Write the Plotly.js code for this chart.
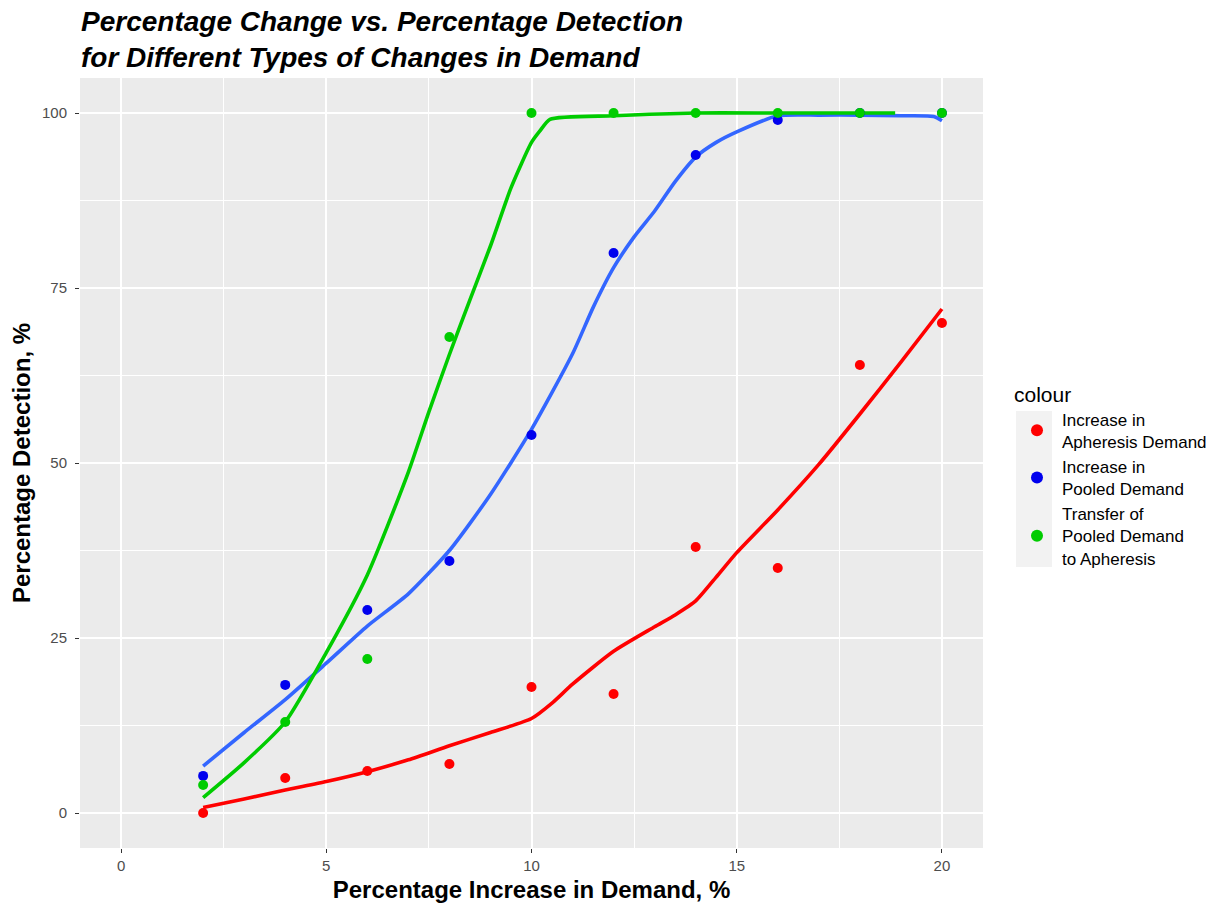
<!DOCTYPE html>
<html>
<head>
<meta charset="utf-8">
<script src="https://cdn.plot.ly/plotly-3.0.1.min.js"></script>
<style>html,body{margin:0;padding:0;background:#fff;}#chart{width:1224px;height:905px;}</style>
</head>
<body>
<div id="chart"></div>
<script>
// Observed points
const demandPct = [2, 4, 6, 8, 10, 12, 14, 16, 18, 20];
const apheresisDetect = [0, 5, 6, 7, 18, 17, 38, 35, 64, 70];
const pooledDetect = [5.3, 18.3, 29, 36, 54, 80, 94, 99, 100, 100];
const transferDetect = [4, 13, 22, 68, 100, 100, 100, 100, 100, 100];

// Smoothed curves
const apheresisSmoothX = [2, 3, 4, 5, 6, 7, 8, 9, 10, 10.5, 11, 12, 13, 13.5, 14, 14.5, 15, 16, 17, 18, 19, 20];
const apheresisSmoothY = [0.8, 2.0, 3.3, 4.5, 5.9, 7.6, 9.6, 11.5, 13.5, 15.7, 18.4, 23.1, 26.6, 28.3, 30.3, 33.7, 37.2, 43.3, 49.8, 57, 64.4, 72];
const pooledSmoothX = [2, 3, 4, 5, 6, 7, 8, 9, 10, 11, 11.5, 12, 12.5, 13, 13.5, 14, 14.5, 15, 16, 17, 18, 19, 19.8, 20];
const pooledSmoothY = [6.7, 11.5, 16.2, 21.4, 26.7, 31.3, 37.5, 45.5, 54.8, 65.6, 72.2, 77.9, 82.3, 86, 90.2, 93.7, 95.8, 97.3, 99.6, 99.7, 99.7, 99.6, 99.5, 98.9];
const transferSmoothX = [2, 3, 4, 5, 6, 7, 7.5, 8, 8.5, 9, 9.5, 10, 10.2, 10.45, 12, 14, 16, 18, 18.86];
const transferSmoothY = [2.2, 7.2, 13, 22.9, 34, 48.7, 57.3, 65.5, 73.3, 81, 89.3, 95.8, 97.4, 99.1, 99.6, 100, 100, 100, 100];

const seriesNames = ["Increase in<br>Apheresis Demand", "Increase in<br>Pooled Demand", "Transfer of<br>Pooled Demand<br>to Apheresis"];
const xTicks = [0, 5, 10, 15, 20];
const yTicks = [0, 25, 50, 75, 100];

const FONT = "Liberation Sans, Arial, Helvetica, sans-serif";

function smooth(x, y, color) {
  return {x: x, y: y, type: "scatter", mode: "lines", showlegend: false, hoverinfo: "skip",
    line: {color: color, width: 3.6, shape: "spline", smoothing: 0.6}};
}
function pts(y, name, color) {
  return {x: demandPct, y: y, type: "scatter", mode: "markers", name: name,
    marker: {color: color, size: 10}};
}

const data = [
  smooth(apheresisSmoothX, apheresisSmoothY, "#FF0000"),
  smooth(pooledSmoothX, pooledSmoothY, "#3366FF"),
  smooth(transferSmoothX, transferSmoothY, "#00CC00"),
  pts(apheresisDetect, seriesNames[0], "#FF0000"),
  pts(pooledDetect, seriesNames[1], "#0000EE"),
  pts(transferDetect, seriesNames[2], "#00CC00")
];

const layout = {
  width: 1224, height: 905,
  margin: {l: 80, r: 241, t: 78, b: 57, pad: 0},
  paper_bgcolor: "#FFFFFF",
  plot_bgcolor: "#EBEBEB",
  font: {family: FONT, color: "#000"},
  title: {
    text: "<b><i>Percentage Change vs. Percentage Detection<br>for Different Types of Changes in Demand</i></b>",
    font: {family: FONT, size: 28, color: "#000"},
    x: 81 / 1224, xref: "container", xanchor: "left",
    y: 1 - 31 / 905, yref: "container", yanchor: "top"
  },
  xaxis: {
    range: [-1, 21], tickvals: xTicks, ticktext: xTicks.map(String),
    showgrid: true, gridcolor: "#FFFFFF", gridwidth: 2, zeroline: false, showline: false,
    ticks: "outside", ticklen: 4, tickwidth: 1, tickcolor: "#333333",
    tickfont: {family: FONT, size: 15, color: "#4D4D4D"},
    minor: {dtick: 2.5, tick0: 0, showgrid: true, gridcolor: "#FFFFFF", gridwidth: 1, ticks: ""},
    title: {text: "<b>Percentage Increase in Demand, %</b>", font: {family: FONT, size: 24, color: "#000"}, standoff: 8},
    automargin: false, fixedrange: true
  },
  yaxis: {
    range: [-5, 105], tickvals: yTicks, ticktext: yTicks.map(String),
    showgrid: true, gridcolor: "#FFFFFF", gridwidth: 2, zeroline: false, showline: false,
    ticks: "outside", ticklen: 4, tickwidth: 1, tickcolor: "#333333",
    tickfont: {family: FONT, size: 15, color: "#4D4D4D"}, ticklabelstandoff: 5,
    minor: {dtick: 12.5, tick0: 0, showgrid: true, gridcolor: "#FFFFFF", gridwidth: 1, ticks: ""},
    title: {text: "<b>Percentage Detection, %</b>", font: {family: FONT, size: 24, color: "#000"}, standoff: 4},
    automargin: false, fixedrange: true
  },
  legend: {
    x: (1012 - 80) / 903, xanchor: "left", y: 0.615, yanchor: "top",
    bgcolor: "rgba(0,0,0,0)",
    title: {text: "colour", font: {family: FONT, size: 21, color: "#000"}},
    font: {family: FONT, size: 17, color: "#000"},
    tracegroupgap: 0, itemsizing: "constant", valign: "middle", itemwidth: 40
  },
  shapes: [{
    type: "rect", xref: "paper", yref: "paper", layer: "below",
    x0: (1016 - 80) / 903, x1: (1052 - 80) / 903,
    y0: (848 - 567) / 770, y1: (848 - 411) / 770,
    fillcolor: "#F2F2F2", line: {width: 0}
  }],
  showlegend: true
};

Plotly.newPlot("chart", data, layout, {displayModeBar: false, staticPlot: true});
</script>
</body>
</html>
